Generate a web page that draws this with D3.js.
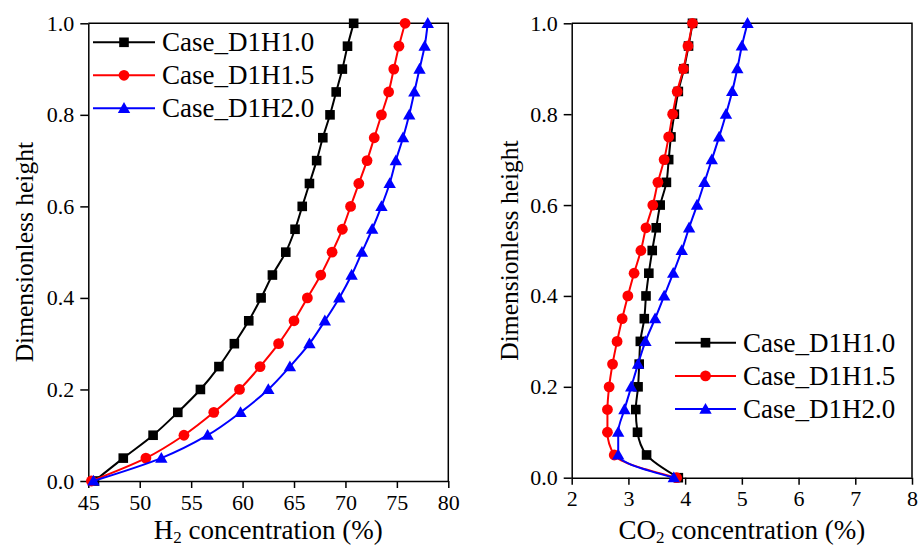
<!DOCTYPE html>
<html>
<head>
<meta charset="utf-8">
<script src="https://cdn.jsdelivr.net/npm/d3@7"></script>
<style>
  html, body { margin: 0; padding: 0; background: #fff; }
  svg { display: block; font-family: "Liberation Serif", serif; }
  svg text { font-family: "Liberation Serif", serif !important; fill: #000; }
</style>
</head>
<body>
<svg id="chart" width="919" height="549"></svg>
<script>
// Dimensionless height levels shared by every profile
const heights = [0, 0.05, 0.1, 0.15, 0.2, 0.25, 0.3, 0.35, 0.4, 0.45, 0.5,
                 0.55, 0.6, 0.65, 0.7, 0.75, 0.8, 0.85, 0.9, 0.95, 1.0];

const caseNames = ["Case_D1H1.0", "Case_D1H1.5", "Case_D1H2.0"];
const caseColors = ["#000000", "#ff0000", "#0000ff"];
const caseSymbols = ["square", "circle", "triangle"];

// H2 concentration (%) profiles
const h2D1H10 = [45.6, 48.4, 51.3, 53.7, 55.9, 57.7, 59.2, 60.6, 61.8, 62.9, 64.2,
                 65.1, 65.8, 66.5, 67.2, 67.8, 68.5, 69.1, 69.7, 70.2, 70.8];
const h2D1H15 = [45.3, 50.6, 54.3, 57.2, 59.7, 61.7, 63.5, 65.0, 66.3, 67.6, 68.7,
                 69.7, 70.5, 71.3, 72.1, 72.8, 73.5, 74.2, 74.7, 75.2, 75.8];
const h2D1H20 = [45.5, 52.1, 56.6, 59.8, 62.5, 64.6, 66.5, 68.0, 69.4, 70.6, 71.6,
                 72.6, 73.5, 74.3, 74.9, 75.6, 76.2, 76.7, 77.2, 77.7, 78.0];

// CO2 concentration (%) profiles
const co2D1H10 = [3.88, 3.32, 3.16, 3.13, 3.17, 3.19, 3.21, 3.28, 3.31, 3.36, 3.42,
                  3.49, 3.56, 3.67, 3.71, 3.75, 3.81, 3.88, 3.98, 4.06, 4.13];
const co2D1H15 = [3.85, 2.75, 2.63, 2.63, 2.66, 2.72, 2.80, 2.89, 2.99, 3.10, 3.22,
                  3.31, 3.43, 3.52, 3.63, 3.71, 3.78, 3.86, 3.97, 4.05, 4.13];
const co2D1H20 = [3.80, 2.82, 2.82, 2.93, 3.05, 3.17, 3.30, 3.47, 3.63, 3.79, 3.94,
                  4.07, 4.21, 4.34, 4.47, 4.60, 4.72, 4.83, 4.92, 5.00, 5.10];

// Axis ticks
const h2Ticks = [45, 50, 55, 60, 65, 70, 75, 80];
const co2Ticks = [2, 3, 4, 5, 6, 7, 8];
const heightTicks = [0, 0.2, 0.4, 0.6, 0.8, 1.0];

const FONT = '"Liberation Serif", serif';
const svg = d3.select("#chart");

const panels = [
  {
    box: { left: 88.3, right: 448.3, top: 23.3, bottom: 481 },
    xDomain: [45, 80], xTicks: h2Ticks,
    series: [h2D1H10, h2D1H15, h2D1H20],
    titleMain: "H", titleSub: "2", titleRest: " concentration (%)",
    yTitleX: 24,
    legend: { lineX0: 93, lineX1: 155, y0: 42.3, dy: 33 }
  },
  {
    box: { left: 571.7, right: 912, top: 23.3, bottom: 477.7 },
    xDomain: [2, 8], xTicks: co2Ticks,
    series: [co2D1H10, co2D1H15, co2D1H20],
    titleMain: "CO", titleSub: "2", titleRest: " concentration (%)",
    yTitleX: 509,
    legend: { lineX0: 675, lineX1: 736, y0: 342.7, dy: 33.2 }
  }
];

function drawMarker(g, symbol, color, cx, cy) {
  if (symbol === "square") {
    g.append("rect").attr("x", cx - 4.8).attr("y", cy - 4.8)
      .attr("width", 9.6).attr("height", 9.6).attr("fill", color);
  } else if (symbol === "circle") {
    g.append("circle").attr("cx", cx).attr("cy", cy).attr("r", 5.4).attr("fill", color);
  } else {
    g.append("path")
      .attr("d", `M${cx},${cy - 6.2}L${cx + 6.2},${cy + 4.6}L${cx - 6.2},${cy + 4.6}Z`)
      .attr("fill", color);
  }
}

panels.forEach(p => {
  const b = p.box;
  const x = d3.scaleLinear().domain(p.xDomain).range([b.left, b.right]);
  const y = d3.scaleLinear().domain([0, 1]).range([b.bottom, b.top]);
  const g = svg.append("g");

  // frame: top and right edges
  g.append("path")
    .attr("d", `M${b.left},${b.top}H${b.right}V${b.bottom}`)
    .attr("fill", "none").attr("stroke", "#000").attr("stroke-width", 1.5);

  // bottom axis
  const xAxis = g.append("g")
    .attr("transform", `translate(0,${b.bottom})`)
    .call(d3.axisBottom(x).tickValues(p.xTicks).tickFormat(d3.format("d"))
      .tickSize(7).tickPadding(6).tickSizeOuter(0));
  // left axis
  const yAxis = g.append("g")
    .attr("transform", `translate(${b.left},0)`)
    .call(d3.axisLeft(y).tickValues(heightTicks).tickFormat(d3.format(".1f"))
      .tickSize(8).tickPadding(6).tickSizeOuter(0));

  [xAxis, yAxis].forEach(a => {
    a.attr("font-family", FONT).attr("font-size", 22);
    a.select(".domain").attr("stroke", "#000").attr("stroke-width", 1.5);
    a.selectAll(".tick line").attr("stroke", "#000").attr("stroke-width", 1.5);
    a.selectAll(".tick text").attr("fill", "#000");
  });

  // axis titles
  const xt = g.append("text")
    .attr("x", (b.left + b.right) / 2).attr("y", 539)
    .attr("text-anchor", "middle")
    .attr("font-family", FONT).attr("font-size", 27);
  xt.append("tspan").text(p.titleMain);
  xt.append("tspan").attr("dy", 4).attr("font-size", 17).text(p.titleSub);
  xt.append("tspan").attr("dy", -4).text(p.titleRest);

  g.append("text")
    .attr("transform", `translate(${p.yTitleX},${(b.top + b.bottom) / 2}) rotate(-90)`)
    .attr("text-anchor", "middle").attr("dy", "0.35em")
    .attr("font-family", FONT).attr("font-size", 25.5)
    .text("Dimensionless height");

  // profiles
  const line = d3.line()
    .x(d => x(d[0])).y(d => y(d[1]))
    .curve(d3.curveMonotoneY);

  p.series.forEach((vals, i) => {
    const pts = vals.map((v, k) => [v, heights[k]]);
    g.append("path").datum(pts)
      .attr("d", line)
      .attr("fill", "none").attr("stroke", caseColors[i]).attr("stroke-width", 2);
    const mg = g.append("g");
    pts.forEach(d => drawMarker(mg, caseSymbols[i], caseColors[i], x(d[0]), y(d[1])));
  });

  // legend
  const L = p.legend;
  caseNames.forEach((name, i) => {
    const ly = L.y0 + i * L.dy;
    g.append("line").attr("x1", L.lineX0).attr("x2", L.lineX1)
      .attr("y1", ly).attr("y2", ly)
      .attr("stroke", caseColors[i]).attr("stroke-width", 2);
    drawMarker(g, caseSymbols[i], caseColors[i], (L.lineX0 + L.lineX1) / 2, ly);
    g.append("text").attr("x", L.lineX1 + 7).attr("y", ly)
      .attr("dy", "0.34em")
      .attr("font-family", FONT).attr("font-size", 27)
      .text(name);
  });
});
</script>
</body>
</html>
